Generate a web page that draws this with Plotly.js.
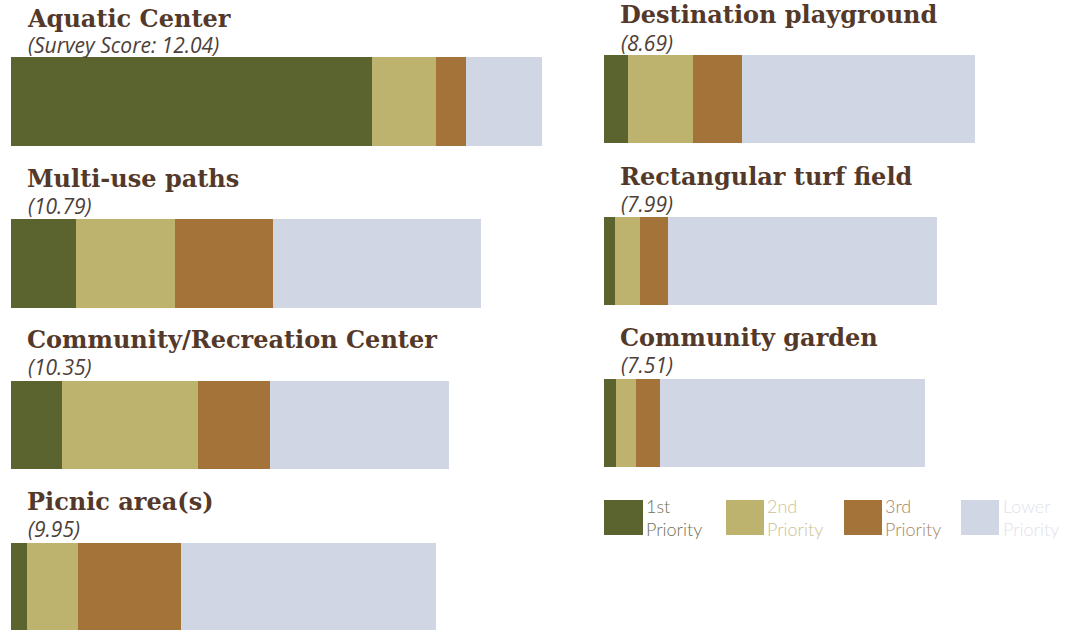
<!DOCTYPE html>
<html>
<head>
<meta charset="utf-8">
<script src="https://cdn.plot.ly/plotly-3.0.1.min.js"></script>
<style>html,body{margin:0;padding:0;background:#fff;}#chart{width:1086px;height:630px;}</style>
</head>
<body>
<div id="chart"></div>
<script>
// ---- data ----
const categories = ["Aquatic Center", "Multi-use paths", "Community/Recreation Center", "Picnic area(s)",
                    "Destination playground", "Rectangular turf field", "Community garden"];
const scores = [12.04, 10.79, 10.35, 9.95, 8.69, 7.99, 7.51];
const priority1 = [90.3, 16.3, 12.8, 4.0, 6.0, 2.8, 3.0];
const priority2 = [16.0, 24.7, 34.0, 12.7, 16.3, 6.3, 5.0];
const priority3 = [7.5, 24.5, 18.0, 25.8, 12.3, 7.0, 6.0];
const priorityLower = [19.0, 52.0, 44.8, 63.8, 58.3, 67.3, 66.3];
const seriesNames = ["1st Priority", "2nd Priority", "3rd Priority", "Lower Priority"];
const legendLine1 = ["1st", "2nd", "3rd", "Lower"];
const legendLine2 = ["Priority", "Priority", "Priority", "Priority"];

// ---- styles / layout ----
const W = 1086, H = 630, PX_PER_UNIT = 4;
const colors = ["#5b632f", "#bdb36f", "#a3733a", "#d0d6e4"];
const legendTextColors = ["#6f7155", "#cbc391", "#a98562", "#dfe2eb"];
const slots = [
  {x0: 11, top: 57, h: 89, span: 540, ty: 18, sy: 45.5},
  {x0: 11, top: 219, h: 89, span: 540, ty: 178.5, sy: 206},
  {x0: 11, top: 381, h: 88, span: 540, ty: 339.5, sy: 367},
  {x0: 11, top: 543, h: 88, span: 540, ty: 501.5, sy: 529},
  {x0: 603.5, top: 55, h: 88, span: 480, ty: 14.5, sy: 43},
  {x0: 603.5, top: 217, h: 88, span: 480, ty: 176, sy: 204},
  {x0: 603.5, top: 379, h: 88, span: 480, ty: 337, sy: 365}
];
const titleX = [26, 26, 26, 26, 619, 619, 619];
const subX = [27, 27, 27, 27, 620, 620, 620];
const legendBoxes = [{x0: 604, x1: 643, tx: 645}, {x0: 726, x1: 764, tx: 766}, {x0: 844, x1: 882, tx: 884}, {x0: 961, x1: 999, tx: 1002}];
const legendTop = 500, legendBottom = 535, legendMid = 517.5;

const series = [priority1, priority2, priority3, priorityLower];
const traces = [];
const layout = {
  width: W, height: H, margin: {l: 0, r: 0, t: 0, b: 0},
  paper_bgcolor: "#ffffff", plot_bgcolor: "rgba(0,0,0,0)",
  barmode: "stack", showlegend: false,
  annotations: [], shapes: []
};
const px = v => v / W;
const py = v => (H - v) / H;

categories.forEach((cat, i) => {
  const s = slots[i];
  const n = i + 1;
  const sfx = n === 1 ? "" : String(n);
  const visibleH = Math.min(s.h, H - s.top);
  layout["xaxis" + sfx] = {domain: [px(s.x0), Math.min(1, px(s.x0 + s.span))], range: [0, s.span / PX_PER_UNIT],
                visible: false, fixedrange: true, anchor: "y" + sfx};
  layout["yaxis" + sfx] = {domain: [Math.max(0, py(s.top + s.h)), py(s.top)], range: [0.5 - visibleH / s.h, 0.5],
                visible: false, fixedrange: true, anchor: "x" + sfx};
  series.forEach((vals, p) => {
    traces.push({
      type: "bar", orientation: "h", x: [vals[i]], y: [0], width: 1,
      name: seriesNames[p], marker: {color: colors[p], line: {width: 0}},
      xaxis: "x" + sfx, yaxis: "y" + sfx,
      hovertemplate: cat + "<br>" + seriesNames[p] + ": %{x}<extra></extra>"
    });
  });
  layout.annotations.push({
    xref: "paper", yref: "paper", x: px(titleX[i]), y: py(s.ty), xanchor: "left", yanchor: "middle",
    text: "<b>" + cat + "</b>", showarrow: false, borderpad: 0,
    font: {family: "DejaVu Serif", size: 24, color: "#54392a"}
  });
  const sc = scores[i].toFixed(2);
  layout.annotations.push({
    xref: "paper", yref: "paper", x: px(subX[i]), y: py(s.sy), xanchor: "left", yanchor: "middle",
    text: "<i>" + (i === 0 ? "(Survey Score: " + sc + ")" : "(" + sc + ")") + "</i>", showarrow: false, borderpad: 0,
    font: {family: "Open Sans", size: 21, color: "#4e3f39"}
  });
});

legendBoxes.forEach((b, p) => {
  layout.shapes.push({type: "rect", xref: "paper", yref: "paper", x0: px(b.x0), x1: px(b.x1),
    y0: py(legendBottom), y1: py(legendTop), fillcolor: colors[p], line: {width: 0}});
  layout.annotations.push({
    xref: "paper", yref: "paper", x: px(b.tx), y: py(legendMid), xanchor: "left", yanchor: "middle",
    text: legendLine1[p] + "<br>" + legendLine2[p], showarrow: false, align: "left", borderpad: 0,
    font: {family: "Lato", size: 18, weight: 300, color: legendTextColors[p]}
  });
});

Plotly.newPlot("chart", traces, layout, {displayModeBar: false, staticPlot: true});
</script>
</body>
</html>
